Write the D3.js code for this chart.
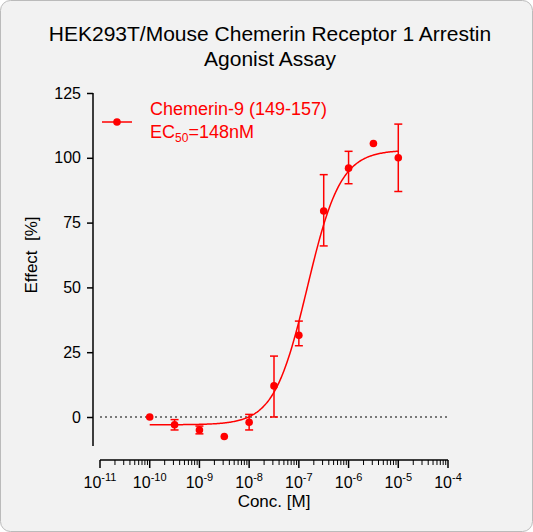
<!DOCTYPE html><html><head><meta charset="utf-8"><script src="https://cdn.jsdelivr.net/npm/d3@7"></script>
<style>body{margin:0;background:#fff}</style></head><body><svg id="c" width="533" height="532"></svg>
<script>
const logConc=[-10,-9.5,-9,-8.5,-8,-7.5,-7,-6.5,-6,-5.5,-5];
const effect=[0,-3,-5,-7.5,-2,12,31.5,79.5,96,105.5,100];
const errLo=[0,2,1.5,0,3,12,4,13.5,6,0,13];
const errHi=[0,2,1.5,0,3,11.5,5.5,14,6.5,0,13];
const fit={bottom:-3,top:103,logEC50:-6.83,hill:1.3};
const yTicks=[0,25,50,75,100,125];
const xDecades=[-11,-10,-9,-8,-7,-6,-5,-4];
const red="#ff0000";
const svg=d3.select("#c");
svg.append("rect").attr("x",0.5).attr("y",0.5).attr("width",532).attr("height",531).attr("rx",10).attr("fill","#f2f2f2").attr("stroke","#bbb");
const x=d3.scaleLinear().domain([-11,-4]).range([100,448]);
const y=d3.scaleLinear().domain([0,125]).range([417,93]);
const f="Liberation Sans, Arial, sans-serif";
svg.append("text").attr("x",270).attr("y",41).attr("text-anchor","middle").attr("font-family",f).attr("font-size",21).text("HEK293T/Mouse Chemerin Receptor 1 Arrestin");
svg.append("text").attr("x",270).attr("y",66).attr("text-anchor","middle").attr("font-family",f).attr("font-size",21).text("Agonist Assay");
const ya=svg.append("g").attr("transform","translate(93,0)").call(d3.axisLeft(y).tickValues(yTicks).tickSize(6).tickPadding(6));
ya.select(".domain").attr("d","M0,"+y(125)+"V446").attr("stroke","#000").attr("stroke-width",1.5);
ya.selectAll("text").attr("font-family",f).attr("font-size",16);
ya.selectAll("line").attr("stroke-width",1.5);
const g=svg.append("g");
g.append("line").attr("x1",x(-11)).attr("x2",x(-4)).attr("y1",460).attr("y2",460).attr("stroke","#000").attr("stroke-width",1.5);
xDecades.forEach(d=>{
 g.append("line").attr("x1",x(d)).attr("x2",x(d)).attr("y1",460).attr("y2",468).attr("stroke","#000").attr("stroke-width",1.5);
 if(d<-4) for(let k=2;k<10;k++){const xv=x(d+Math.log10(k));g.append("line").attr("x1",xv).attr("x2",xv).attr("y1",460).attr("y2",465).attr("stroke","#000");}
 const t=g.append("text").attr("x",x(d)).attr("y",488).attr("text-anchor","middle").attr("font-family",f).attr("font-size",16);
 t.append("tspan").text("10");t.append("tspan").attr("dy",-7).attr("font-size",11).text(d);
});
svg.append("text").attr("x",x(-7.5)).attr("y",507).attr("text-anchor","middle").attr("font-family",f).attr("font-size",17).text("Conc. [M]");
svg.append("text").attr("xml:space","preserve").style("white-space","pre").attr("transform","translate(37,"+y(62.5)+") rotate(-90)").attr("text-anchor","middle").attr("font-family",f).attr("font-size",17).text("Effect  [%]");
svg.append("line").attr("x1",x(-11)).attr("x2",x(-4)).attr("y1",y(0)).attr("y2",y(0)).attr("stroke","#000").attr("stroke-dasharray","2,3");
const pts=d3.range(-10,-4.999,0.02).map(l=>[l,fit.bottom+(fit.top-fit.bottom)/(1+Math.pow(10,(fit.logEC50-l)*fit.hill))]);
svg.append("path").attr("d",d3.line().x(d=>x(d[0])).y(d=>y(d[1]))(pts)).attr("fill","none").attr("stroke",red).attr("stroke-width",1.5);
logConc.forEach((l,i)=>{
 const xv=x(l);
 if(errLo[i]+errHi[i]>0){
  const a=y(effect[i]+errHi[i]),b=y(effect[i]-errLo[i]);
  svg.append("line").attr("x1",xv).attr("x2",xv).attr("y1",a).attr("y2",b).attr("stroke",red).attr("stroke-width",1.5);
  [a,b].forEach(v=>svg.append("line").attr("x1",xv-4).attr("x2",xv+4).attr("y1",v).attr("y2",v).attr("stroke",red).attr("stroke-width",1.5));
 }
 svg.append("circle").attr("cx",xv).attr("cy",y(effect[i])).attr("r",3.8).attr("fill",red);
});
svg.append("line").attr("x1",102).attr("x2",132).attr("y1",122).attr("y2",122).attr("stroke",red).attr("stroke-width",1.5);
svg.append("circle").attr("cx",117).attr("cy",122).attr("r",3.8).attr("fill",red);
svg.append("text").attr("x",150).attr("y",115).attr("font-family",f).attr("font-size",18).attr("fill",red).text("Chemerin-9 (149-157)");
const lt=svg.append("text").attr("x",150).attr("y",138).attr("font-family",f).attr("font-size",18).attr("fill",red);
lt.append("tspan").text("EC");lt.append("tspan").attr("font-size",12).attr("dy",4).text("50");lt.append("tspan").attr("dy",-4).text("=148nM");
</script></body></html>
